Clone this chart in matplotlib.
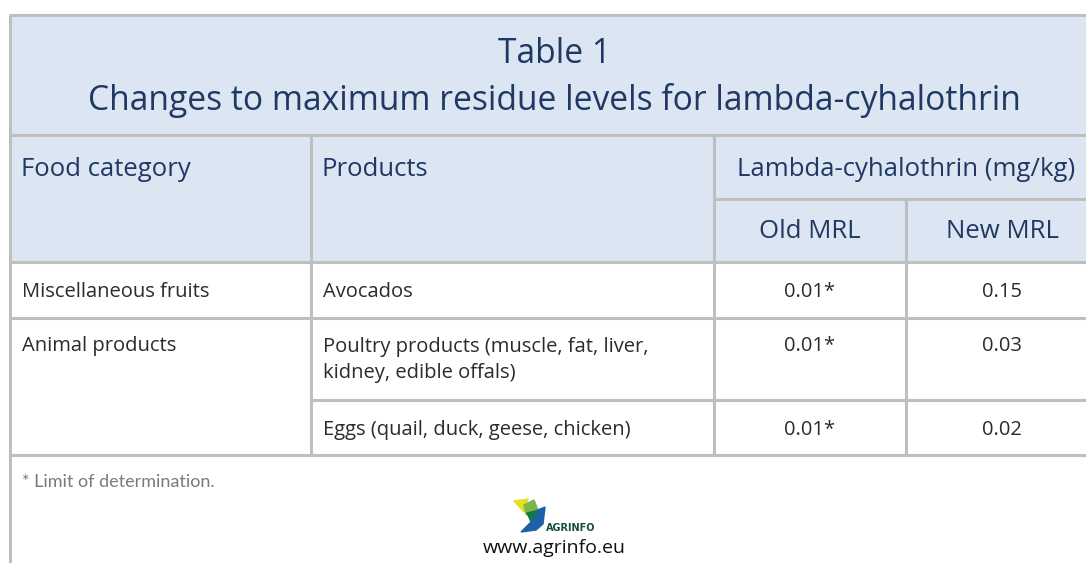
import matplotlib.pyplot as plt
from matplotlib.patches import Rectangle, Polygon

# Table data
title_lines = ["Table 1", "Changes to maximum residue levels for lambda-cyhalothrin"]
header_cols = ["Food category", "Products", "Lambda-cyhalothrin (mg/kg)"]
sub_headers = ["Old MRL", "New MRL"]
categories = ["Miscellaneous fruits", "Animal products", ""]
products = ["Avocados", "Poultry products (muscle, fat, liver,\nkidney, edible offals)",
            "Eggs (quail, duck, geese, chicken)"]
old_mrl = ["0.01*", "0.01*", "0.01*"]
new_mrl = ["0.15", "0.03", "0.02"]
footnote = "* Limit of determination."
site = "www.agrinfo.eu"

W, H = 1086, 563
fig = plt.figure(figsize=(W / 100, H / 100), dpi=100)
ax = fig.add_axes([0, 0, 1, 1])
ax.set_xlim(0, W)
ax.set_ylim(H, 0)
ax.axis("off")

FONT = "Open Sans"
navy = "#1f3864"
body = "#2b2b2b"
fill = "#dce6f2"
grid = "#bfbfbf"
lw = 2.2

# column edges and row edges (pixels)
xl, x1, x2, x3, xr = 10, 311, 714, 906, 1098
y_top, y_title, y_sub, y_head, y_r1, y_r2, y_r3 = 15, 135, 199, 262, 318, 400, 455

ax.add_patch(Rectangle((xl, y_top), xr - xl, y_head - y_top, color=fill, zorder=0))

def hline(y, a, b):
    ax.plot([a, b], [y, y], color=grid, lw=lw, solid_capstyle="butt")

def vline(x, a, b):
    ax.plot([x, x], [a, b], color=grid, lw=lw, solid_capstyle="butt")

hline(y_top, xl - 1, xr)
hline(y_title, xl, xr)
hline(y_sub, x2, xr)
hline(y_head, xl, xr)
hline(y_r1, xl, xr)
hline(y_r2, x1, xr)
hline(y_r3, xl, xr)
vline(xl, y_top, H)
for x in (x1, x2):
    vline(x, y_title, y_r3)
vline(x3, y_sub, y_r3)

# title
ax.text(554, 54, title_lines[0], ha="center", va="center", fontsize=24.2,
        color=navy, family=FONT)
ax.text(554, 101, title_lines[1], ha="center", va="center", fontsize=24.2,
        color=navy, family=FONT)

# headers
hs = 18.5
ax.text(21, 169, header_cols[0], ha="left", va="center", fontsize=hs, color=navy, family=FONT)
ax.text(322, 169, header_cols[1], ha="left", va="center", fontsize=hs, color=navy, family=FONT)
ax.text((x2 + xr) / 2, 169, header_cols[2], ha="center", va="center", fontsize=hs,
        color=navy, family=FONT)
ax.text((x2 + x3) / 2, 232, sub_headers[0], ha="center", va="center", fontsize=hs,
        color=navy, family=FONT)
ax.text((x3 + xr) / 2, 232, sub_headers[1], ha="center", va="center", fontsize=hs,
        color=navy, family=FONT)

# body rows
bs = 14.5
row_y = [292, 346, 430]
for i in range(3):
    ax.text(22, row_y[i], categories[i], ha="left", va="center", fontsize=bs,
            color=body, family=FONT)
    if "\n" in products[i]:
        ax.text(323, row_y[i] + 14, products[i], ha="left", va="center",
                fontsize=bs, color=body, family=FONT, linespacing=1.45)
    else:
        ax.text(323, row_y[i], products[i], ha="left", va="center",
                fontsize=bs, color=body, family=FONT)
    ax.text((x2 + x3) / 2, row_y[i], old_mrl[i], ha="center", va="center", fontsize=bs,
            color=body, family=FONT)
    ax.text((x3 + xr) / 2, row_y[i], new_mrl[i], ha="center", va="center", fontsize=bs,
            color=body, family=FONT)

# footer
ax.text(22, 482, footnote, ha="left", va="center", fontsize=13, color="#7a7a7a", family="Lato")

# small logo
ax.add_patch(Polygon([[514, 501], [528, 499], [524, 512]], color="#e3e022"))
ax.add_patch(Polygon([[524, 505], [534, 500], [538, 510], [532, 518], [526, 514]], color="#7ab648"))
ax.add_patch(Polygon([[528, 514], [545, 507], [543, 524], [536, 530], [521, 532], [531, 522]],
                     color="#1f5fa8"))
ax.add_patch(Polygon([[527, 513], [537, 511], [531, 521]], color="#0f7a44"))
ax.text(546, 528, "AGRINFO", ha="left", va="center", fontsize=7, fontweight="bold",
        color="#14503c", family="DejaVu Sans Condensed")
ax.text(554, 548, site, ha="center", va="center", fontsize=14, color="#111111", family=FONT)

fig.savefig("out.png", dpi=100)
